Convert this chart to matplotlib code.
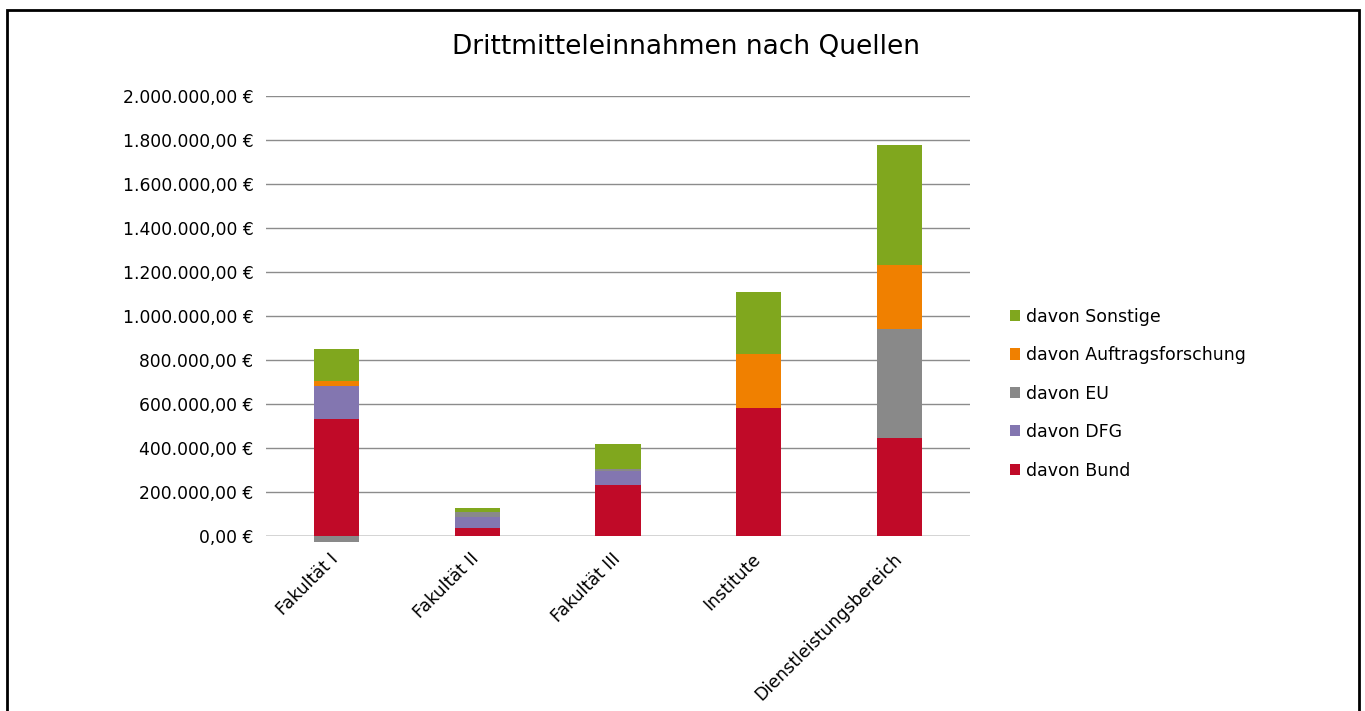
import matplotlib.pyplot as plt
import numpy as np
from matplotlib.patches import Rectangle
from matplotlib.transforms import ScaledTranslation

categories = ["Fakultät I", "Fakultät II", "Fakultät III", "Institute", "Dienstleistungsbereich"]
series_names = ["davon Bund", "davon DFG", "davon EU", "davon Auftragsforschung", "davon Sonstige"]
bund = [530000, 35000, 230000, 580000, 447000]
dfg = [153000, 53000, 64000, 0, 0]
eu = [-25000, 20000, 9000, 0, 495000]
auftrag = [23000, 0, 0, 249000, 288000]
sonstige = [144000, 21000, 114000, 279000, 547000]
colors = ["#C00A28", "#8376B0", "#898989", "#F08000", "#80A71E"]
yticks = np.arange(0, 2000001, 200000)

plt.rcParams["font.family"] = ["DejaVu Sans"]

fig = plt.figure(figsize=(13.65, 7.11), dpi=100)
fig.patches.append(Rectangle((7 / 1365, -0.1), 1352 / 1365, 1.1 - 10 / 711,
                             transform=fig.transFigure, fill=False,
                             edgecolor="black", linewidth=2))
ax = fig.add_axes([266 / 1365, 1 - 536 / 711, 704 / 1365, 440 / 711])

x = np.arange(len(categories))
pos_bottom = np.zeros(len(categories))
neg_bottom = np.zeros(len(categories))
handles = []
for name, vals, col in zip(series_names, [bund, dfg, eu, auftrag, sonstige], colors):
    vals = np.array(vals, dtype=float)
    bottom = np.where(vals >= 0, pos_bottom, neg_bottom)
    h = ax.bar(x, vals, 0.32, bottom=bottom, color=col, label=name, zorder=3)
    handles.append(h)
    pos_bottom += np.where(vals > 0, vals, 0)
    neg_bottom += np.where(vals < 0, vals, 0)

ax.set_xlim(-0.5, len(categories) - 0.5)
ax.set_ylim(0, 2000000)
ax.set_yticks(yticks)
ax.set_yticklabels([f"{v:,.2f} €".replace(",", "X").replace(".", ",").replace("X", ".") for v in yticks],
                   fontsize=12.3)
ax.set_xticks(x)
ax.set_xticklabels(categories, rotation=45, ha="right", va="top", rotation_mode="anchor", fontsize=12.5)
ax.tick_params(axis="y", length=0, pad=9)
ax.tick_params(axis="x", length=0, pad=10)
offset = ScaledTranslation(-7 / 100, 0, fig.dpi_scale_trans)
for t in ax.get_xticklabels():
    t.set_transform(t.get_transform() + offset)
ax.grid(axis="y", color="#8c8c8c", linewidth=1, zorder=0)
for s in ["top", "right", "left", "bottom"]:
    ax.spines[s].set_visible(False)
ax.axhline(0, color="#8c8c8c", linewidth=1, zorder=2)
for h in handles:
    for p in h:
        p.set_clip_on(False)

fig.text(686 / 1365, 1 - 47 / 711, "Drittmitteleinnahmen nach Quellen", ha="center", va="center", fontsize=19)

leg = fig.legend(handles[::-1], series_names[::-1], loc="upper left",
                 bbox_to_anchor=(994 / 1365, 1 - 292 / 711), frameon=False,
                 fontsize=12.5, handlelength=0.6, handleheight=0.6, handletextpad=0.35,
                 labelspacing=1.18)

fig.savefig("out.png", dpi=100)
